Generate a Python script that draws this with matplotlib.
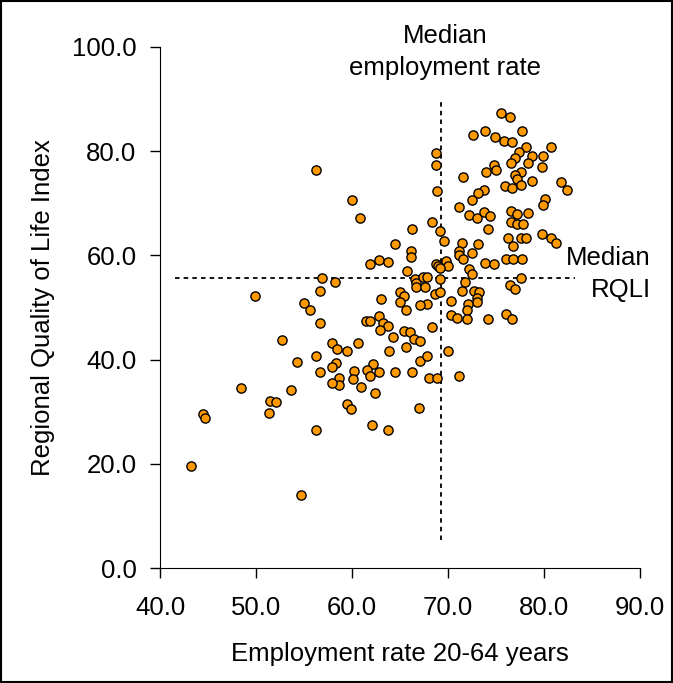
import matplotlib.pyplot as plt
from matplotlib.patches import Rectangle

plt.rcParams['font.family'] = ['Liberation Sans', 'DejaVu Sans']

# employment rate 20-64 (%) and regional quality of life index per region
emp = [52.7, 54.3, 56.2, 56.7, 48.4, 53.6, 51.5, 52.1, 51.4, 44.5,
       44.7, 56.3, 43.2, 54.7, 56.3, 56.9, 56.7, 49.9, 55.0, 55.6,
       56.7, 60.0, 60.8, 66.3, 64.5, 66.1, 66.1, 61.9, 62.8, 63.7,
       65.7, 58.2, 66.6, 66.7, 66.7, 65.05, 63.0, 65.4, 65.0, 65.6,
       61.5, 61.9, 62.8, 63.2, 63.8, 62.9, 64.3, 65.4, 66.0, 66.5,
       67.1, 57.9, 58.4, 59.5, 60.6, 65.6, 63.9, 58.3, 57.9, 60.2,
       62.2, 61.6, 61.9, 62.8, 64.5, 66.2, 58.6, 58.6, 60.1, 57.9,
       60.9, 62.4, 67.1, 67.0, 59.5, 59.9, 62.1, 63.7,
       72.6, 73.85, 74.9, 68.7, 68.7, 74.8, 74.0, 75.0, 71.6, 68.9,
       73.7, 73.1, 72.5, 71.1, 72.2, 73.0, 73.7, 74.4, 74.2, 68.3,
       69.2, 69.6, 71.5, 73.1, 71.15, 71.15, 71.6, 72.5, 73.9, 74.8,
       72.2, 72.5, 68.8, 69.0, 69.8, 70.0, 69.2, 69.2, 67.4, 67.8,
       67.6, 71.8, 71.5, 72.7, 73.2, 73.0, 73.0, 72.1, 68.65, 69.2,
       67.8, 67.1, 70.3, 72.0, 70.3, 70.9, 72.0, 74.2, 68.3,
       67.8, 70.0, 68.0, 68.9, 71.1,
       75.5, 76.5, 77.7, 75.8, 76.7, 80.7, 78.1, 77.4, 78.7, 79.9,
       77.0, 76.6, 78.3, 79.8, 77.6, 77.0, 77.2, 78.8, 81.8, 82.4,
       75.9, 76.7, 77.6, 80.1, 79.9, 76.6, 77.2, 78.3, 76.6, 77.2,
       77.8, 76.3, 77.6, 78.1, 76.8, 79.8, 80.7, 81.25, 76.0, 76.8,
       77.7, 77.6, 76.5, 77.0, 76.0, 76.7]
rqli = [43.7, 39.6, 40.7, 37.6, 34.5, 34.2, 32.1, 31.8, 29.8, 29.5,
        28.7, 26.4, 19.6, 14.1, 76.3, 55.6, 53.2, 52.2, 50.8, 49.5,
        47.1, 70.6, 67.1, 65.1, 62.1, 60.8, 59.6, 58.3, 59.1, 58.7,
        57.1, 54.9, 55.5, 54.7, 53.9, 53.0, 51.6, 52.2, 51.0, 49.6,
        47.5, 47.4, 48.3, 47.1, 46.5, 45.7, 44.4, 45.4, 45.3, 44.0,
        43.6, 43.1, 42.0, 41.7, 43.1, 42.4, 41.7, 39.3, 38.5, 37.8,
        39.1, 38.0, 36.9, 37.6, 37.6, 37.6, 36.5, 35.1, 36.2, 35.6,
        34.8, 33.5, 39.7, 30.8, 31.5, 30.5, 27.4, 26.4,
        83.1, 83.9, 82.8, 79.7, 77.4, 77.4, 76.0, 76.3, 75.0, 72.3,
        72.6, 71.9, 70.6, 69.2, 67.8, 67.1, 68.3, 67.5, 65.1, 66.5,
        64.7, 62.8, 62.4, 62.1, 60.8, 60.1, 59.4, 60.4, 58.6, 58.3,
        57.3, 56.4, 58.3, 57.9, 58.9, 57.9, 57.5, 55.5, 55.9, 55.9,
        53.9, 54.9, 53.2, 53.2, 52.9, 51.9, 51.1, 50.7, 52.6, 52.9,
        50.7, 50.5, 51.3, 49.5, 48.5, 48.0, 47.8, 47.8, 46.2,
        40.7, 41.7, 36.5, 36.5, 36.9,
        87.3, 86.5, 83.8, 81.9, 81.8, 80.8, 80.9, 79.8, 79.1, 79.1,
        78.6, 77.8, 77.7, 77.0, 76.1, 75.5, 74.7, 74.3, 74.0, 72.6,
        73.3, 72.9, 73.6, 70.9, 69.6, 68.6, 67.9, 68.2, 66.5, 66.0,
        66.1, 63.4, 63.4, 63.4, 61.8, 64.2, 63.4, 62.4, 59.3, 59.3,
        59.3, 55.7, 54.3, 53.5, 48.8, 47.7]

median_emp = 69.3
median_rqli = 55.6

x_ticks = [40, 50, 60, 70, 80, 90]
y_ticks = [0, 20, 40, 60, 80, 100]

fig = plt.figure(figsize=(6.73, 6.83), dpi=100)
ax = fig.add_axes([160 / 673, 1 - 568 / 683, 480 / 673, 521 / 683])

ax.plot([median_emp, median_emp], [5.4, 89.8], color='black', lw=1.3,
        dashes=(2.5, 2.3), zorder=1)
ax.plot([41.6, 83.2], [median_rqli, median_rqli], color='black', lw=1.3,
        dashes=(2.5, 2.3), zorder=1)

ax.scatter(emp, rqli, s=44, c='#FF9900', edgecolors='black', linewidths=1.0,
           zorder=3)

ax.set_xlim(40, 90)
ax.set_ylim(0, 100)
ax.set_xticks(x_ticks)
ax.set_yticks(y_ticks)
ax.set_xticklabels([f'{v:.1f}' for v in x_ticks])
ax.set_yticklabels([f'{v:.1f}' for v in y_ticks])
ax.tick_params(direction='out', length=7, width=1, labelsize=18.5)
ax.tick_params(axis='x', pad=13)
ax.tick_params(axis='y', pad=10)
for side in ['top', 'right']:
    ax.spines[side].set_visible(False)

ax.set_xlabel('Employment rate 20-64 years', fontsize=18.5, labelpad=16)
ax.set_ylabel('Regional Quality of Life Index', fontsize=18.5, labelpad=12)

ax.text(69.7, 99.0, 'Median\nemployment rate', ha='center', va='center',
        fontsize=18.5, linespacing=1.45)
ax.text(91.1, median_rqli + 0.8, 'Median\nRQLI', ha='right', va='center',
        fontsize=18.5, linespacing=1.45, clip_on=False)

fig.patches.append(Rectangle((0.002, 0.002), 0.996, 0.996,
                             transform=fig.transFigure, fill=False,
                             edgecolor='black', lw=1.5))

fig.savefig('out.png', dpi=100)
